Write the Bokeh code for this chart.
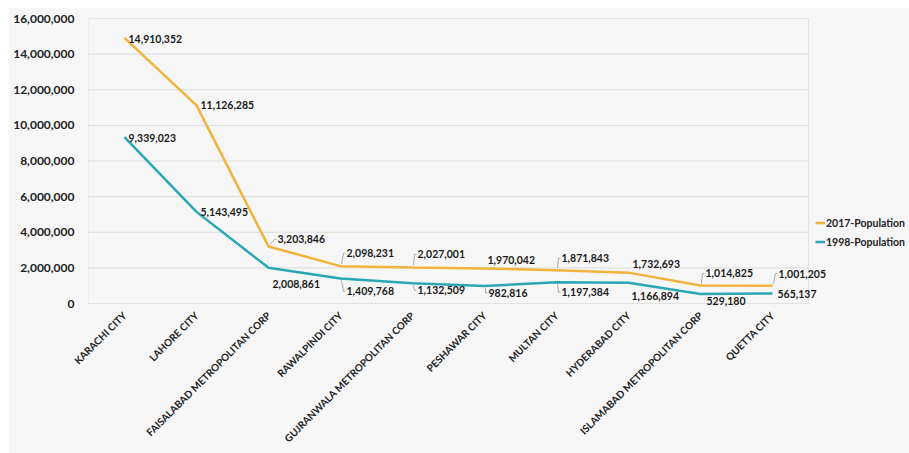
from bokeh.plotting import figure
from bokeh.models import (ColumnDataSource, FixedTicker, NumeralTickFormatter, Legend, LegendItem,
                          Range1d, LabelSet)
from bokeh.core.properties import value
from bokeh.embed import file_html
from bokeh.resources import INLINE
import math

cities = ["KARACHI CITY", "LAHORE CITY", "FAISALABAD METROPOLITAN CORP", "RAWALPINDI CITY",
          "GUJRANWALA METROPOLITAN CORP", "PESHAWAR CITY", "MULTAN CITY", "HYDERABAD CITY",
          "ISLAMABAD METROPOLITAN CORP", "QUETTA CITY"]
pop_2017 = [14910352, 11126285, 3203846, 2098231, 2027001, 1970042, 1871843, 1732693, 1014825, 1001205]
pop_1998 = [9339023, 5143495, 2008861, 1409768, 1132509, 982816, 1197384, 1166894, 529180, 565137]
y_ticks = [0, 2000000, 4000000, 6000000, 8000000, 10000000, 12000000, 14000000, 16000000]

# label offsets (screen px, positive dy = upward) and whether a leader line is drawn
dx_2017 = [4, 4, 9, 6, 5, 3, 5, 4, 5, 6]
dy_2017 = [-1, 0, 7, 13, 13, 8, 12, 9, 12, 12]
lead_2017 = [0, 0, 1, 1, 1, 0, 1, 0, 1, 1]
dx_1998 = [4, 4, 4, 6, 5, 4, 5, 3, 6, 5]
dy_1998 = [-1, 0, -16, -13, -7, -7, -10, -13, -7, -1]
lead_1998 = [0, 0, 0, 1, 1, 1, 1, 0, 0, 0]

C17 = "#F2B33D"
C98 = "#2AA7B5"
BG = "#f6f6f6"
GRID = "#dcdcdc"
LEAD = "#a8a8a8"
FONT = "Lato"

W, H = 901, 446
LEFT, TOP = 80, 11
PLOT_H = 285          # pixel height from 0 to the top tick
EXTRA = 6             # extra pixels below 0 so labels are not clipped
BOTTOM = H - TOP - PLOT_H - EXTRA
CAT_PX = 72           # pixel width of one category slot
n = len(cities)
x_idx = list(range(n))
frame_w = W - LEFT
x_end = -0.5 + frame_w / CAT_PX
y_max = y_ticks[-1]
y_start = -EXTRA * y_max / PLOT_H
PX_X = 1 / CAT_PX
PX_Y = y_max / PLOT_H

p = figure(x_range=Range1d(-0.5, x_end), y_range=Range1d(y_start, y_max), width=W, height=H,
           output_backend="svg", toolbar_location=None,
           min_border_left=LEFT, min_border_right=0, min_border_top=TOP, min_border_bottom=BOTTOM)
p.styles = {"margin-left": "8px", "margin-top": "7px"}
p.background_fill_color = BG
p.border_fill_color = BG
p.outline_line_color = None
p.xgrid.grid_line_color = None
p.ygrid.grid_line_color = None

# plot-area gridlines and border, limited to the category span
p.segment(x0=[-0.5] * len(y_ticks), x1=[n - 0.5] * len(y_ticks), y0=y_ticks, y1=y_ticks,
          line_color=GRID, line_width=1)
p.quad(left=[-0.5], right=[n - 0.5], bottom=[0], top=[y_max], fill_color=None,
       line_color="#e2e2e2", line_width=1)

p.yaxis.ticker = FixedTicker(ticks=y_ticks)
p.yaxis.formatter = NumeralTickFormatter(format="0,0")
p.yaxis.axis_line_color = None
p.yaxis.major_tick_line_color = None
p.yaxis.minor_tick_line_color = None
p.yaxis.major_tick_out = 0
p.yaxis.minor_tick_out = 0
p.yaxis.major_label_text_font = FONT
p.yaxis.major_label_text_font_style = "bold"
p.yaxis.major_label_text_font_size = "12px"
p.yaxis.major_label_text_color = "#222222"
p.yaxis.major_label_standoff = 14

p.xaxis.ticker = FixedTicker(ticks=x_idx)
p.xaxis.major_label_overrides = {i: c for i, c in enumerate(cities)}
p.xaxis.axis_line_color = None
p.xaxis.major_tick_line_color = None
p.xaxis.minor_tick_line_color = None
p.xaxis.major_tick_out = 0
p.xaxis.minor_tick_out = 0
p.xaxis.major_label_orientation = math.pi / 4
p.xaxis.major_label_text_font = FONT
p.xaxis.major_label_text_font_style = "bold"
p.xaxis.major_label_text_font_size = "10px"
p.xaxis.major_label_text_color = "#222222"
p.xaxis.major_label_standoff = 4

# leader lines (drawn in data space from pixel offsets)
lx, ly = [], []
for vals, dxs, dys, leads in ((pop_2017, dx_2017, dy_2017, lead_2017),
                              (pop_1998, dx_1998, dy_1998, lead_1998)):
    for i, (v, dx, dy, ld) in enumerate(zip(vals, dxs, dys, leads)):
        if not ld:
            continue
        s = 1 if dy > 0 else -1
        lx.append([i + 1 * PX_X, i + (dx - 3) * PX_X, i + (dx - 1) * PX_X])
        ly.append([v + s * 2 * PX_Y, v + dy * PX_Y, v + dy * PX_Y])
p.multi_line(xs=lx, ys=ly, line_color=LEAD, line_width=1)

src = ColumnDataSource(dict(
    x=x_idx, p17=pop_2017, p98=pop_1998,
    t17=[f"{v:,}" for v in pop_2017], t98=[f"{v:,}" for v in pop_1998],
    dx17=dx_2017, dy17=dy_2017, dx98=dx_1998, dy98=dy_1998,
))

r17 = p.line("x", "p17", source=src, line_color=C17, line_width=2.5)
r98 = p.line("x", "p98", source=src, line_color=C98, line_width=2.5)

for t, yv, dx, dy in (("t17", "p17", "dx17", "dy17"), ("t98", "p98", "dx98", "dy98")):
    p.add_layout(LabelSet(x="x", y=yv, text=t, source=src, x_offset=dx, y_offset=dy,
                          text_font=value(FONT), text_font_style="bold", text_font_size="10.5px",
                          text_color="#1a1a1a", text_align="left", text_baseline="middle"))

legend = Legend(items=[LegendItem(label="2017-Population", renderers=[r17]),
                       LegendItem(label="1998-Population", renderers=[r98])],
                location=(727, 52 + EXTRA), orientation="vertical")
legend.background_fill_alpha = 0
legend.border_line_color = None
legend.padding = 0
legend.spacing = 0
legend.margin = 0
legend.glyph_width = 10
legend.glyph_height = 19
legend.label_height = 19
legend.label_standoff = 1
legend.label_text_font = FONT
legend.label_text_font_style = "bold"
legend.label_text_font_size = "10.5px"
legend.label_text_color = "#222222"
p.add_layout(legend, "center")

open("out.html", "w").write(file_html(p, INLINE))
